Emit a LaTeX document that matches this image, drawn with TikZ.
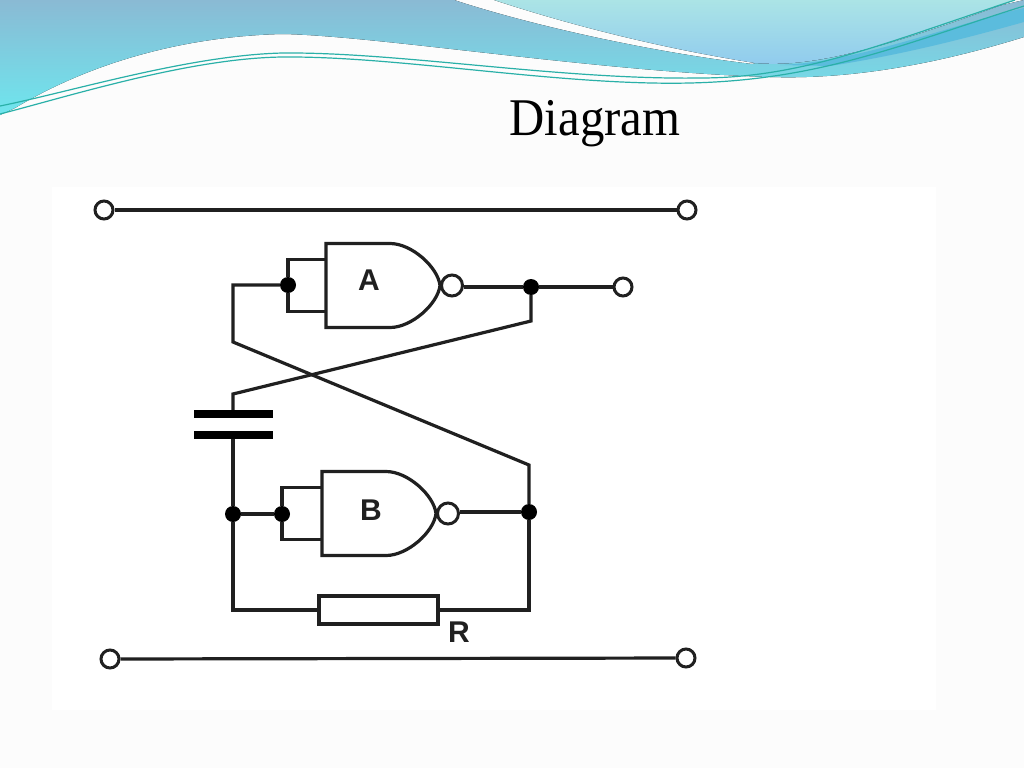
\documentclass[tikz,border=0pt]{standalone}
\usepackage{fontspec}
\newfontfamily\titlefont[FakeStretch=0.92]{Liberation Serif}
\setsansfont{Liberation Sans}
\usepackage{xcolor}
\definecolor{paper}{HTML}{FCFCFC}
\definecolor{wavetop}{HTML}{8ABAD4}
\definecolor{wavelow}{HTML}{6EE6EE}
\definecolor{paletop}{HTML}{ABE4E6}
\definecolor{palelow}{HTML}{8FCAEE}
\definecolor{waveband}{HTML}{5BBCDD}
\definecolor{waveline}{HTML}{2AB0A8}
\definecolor{wire}{HTML}{202020}

\begin{document}
\begin{tikzpicture}
[x=1pt,y=-1pt]
\tikzset{
	terminal/.style = {circle, draw=wire, line width=3pt, fill=white, inner sep=0, minimum size=18pt},
	junction/.style = {circle, fill=black, inner sep=0, minimum size=16pt},
	bubble/.style = {circle, draw=wire, line width=3pt, fill=white, inner sep=0, minimum size=21pt},
	link/.style = {draw=wire, line width=3.2pt},
	plate/.style = {draw=black, line width=8pt},
	resistor/.style = {draw=wire, line width=3.2pt, fill=white, minimum width=119pt, minimum height=28pt, inner sep=0},
	letter/.style = {font=\sffamily\bfseries\fontsize{30}{30}\selectfont, text=wire, inner sep=0},
	nandbody/.pic = {
		\draw[link, fill=white] (0,-42) -- (64,-42) .. controls (86,-42) and (112,-18) .. (114,0) .. controls (112,18) and (86,42) .. (64,42) -- (0,42) -- cycle;
		\node (bubble) [bubble] at (126,0) {};
		\coordinate (input 1) at (0,-26);
		\coordinate (input 2) at (0,26);
	}
}
\useasboundingbox (0,0) rectangle (1024,768);
\fill[paper] (0,0) rectangle (1024,768);
\fill[white] (52,187) rectangle (936,710);

\fill[top color=wavetop, bottom color=wavelow] (0,0) -- (454,0) .. controls (530,25) and (650,52) .. (752,64) -- (1024,0) -- (1024,37) .. controls (950,60) and (860,80) .. (770,77) .. controls (600,72) and (380,36) .. (283,34) .. controls (190,36) and (95,60) .. (15,108) -- (0,115) -- cycle;
\fill[top color=paletop, bottom color=palelow] (494,0) .. controls (570,25) and (660,48) .. (755,63) .. controls (810,68) and (880,50) .. (1015,0) -- cycle;
\fill[waveband] (780,65) .. controls (860,62) and (950,25) .. (1024,8) -- (1024,22) .. controls (960,40) and (900,55) .. (830,66) -- cycle;
\draw[waveline, line width=1.2pt] (0,106) .. controls (70,92) and (190,55) .. (283,53) .. controls (400,52) and (560,80) .. (700,78) .. controls (800,78) and (880,45) .. (1015,0);
\draw[waveline, line width=1.2pt] (0,114) .. controls (70,96) and (190,58) .. (283,57) .. controls (400,56) and (560,86) .. (690,83) .. controls (820,80) and (900,45) .. (1024,6);

\node (title) [anchor=base, inner sep=0] at (595,135) {\titlefont\fontsize{53}{53}\selectfont Diagram};

\node (railTL) [terminal] at (104,210) {};
\node (railTR) [terminal] at (687,210) {};
\node (railBL) [terminal] at (110,659) {};
\node (railBR) [terminal] at (686,658) {};
\node (out) [terminal] at (623,287) {};

\pic (gateA-) at (326,285.5) {nandbody};
\pic (gateB-) at (322,513.5) {nandbody};
\node (labelA) [letter] at (369,280) {A};
\node (labelB) [letter] at (371,510) {B};

\node (inA) [junction] at (288,285) {};
\node (inB) [junction] at (282,514) {};
\node (leftB) [junction] at (233,514) {};
\node (outA) [junction] at (531,287) {};
\node (outB) [junction] at (529,512) {};

\coordinate (cornerA) at (233,285);
\coordinate (kneeA) at (233,342);
\coordinate (kneeB) at (529,465);
\coordinate (kneeC) at (531,321);
\coordinate (kneeD) at (233,394);
\coordinate (capTop) at (233,414);
\coordinate (capLow) at (233,435);
\coordinate (cornerL) at (233,610);
\coordinate (cornerR) at (529,610);

\node (res) [resistor] at (378.5,610) {};
\node (labelR) [letter] at (459,632) {R};

\draw[link] (railTL) -- (railTR);
\draw[link] (railBL) -- (railBR);
\draw[link] (gateA-bubble.east |- outA) -- (outA) -- (out);
\draw[link] (gateB-bubble.east |- outB) -- (outB);
\draw[link] (inA) -- (cornerA) -- (kneeA) -- (kneeB) -- (outB);
\draw[link] (outA) -- (kneeC) -- (kneeD) -- (capTop);
\draw[link] (capLow) -- (leftB) -- (inB);
\draw[link] (leftB) -- (cornerL) -- (res);
\draw[link] (res) -- (cornerR) -- (outB);
\draw[link] (gateA-input 1) -| (inA) |- (gateA-input 2);
\draw[link] (gateB-input 1) -| (inB) |- (gateB-input 2);

\draw[plate] (194,414) -- (273,414);
\draw[plate] (194,435) -- (273,435);
\end{tikzpicture}
\end{document}
